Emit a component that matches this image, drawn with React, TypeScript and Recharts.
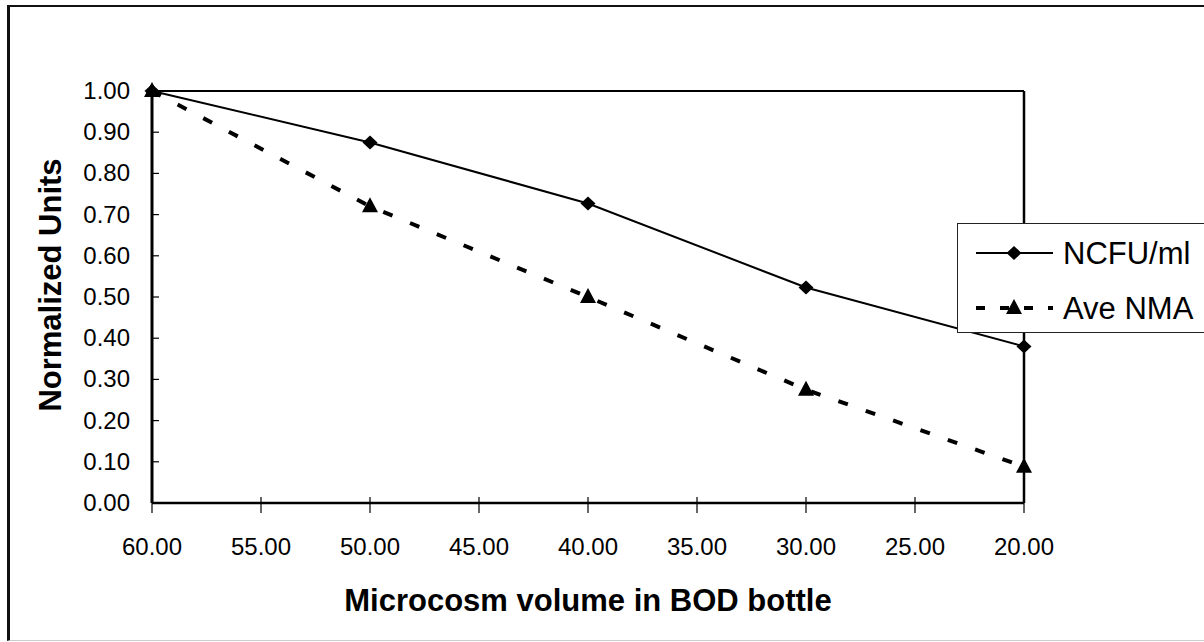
import React from "react";
import {
  LineChart, Line, XAxis, YAxis, Legend, ReferenceLine, Label,
} from "recharts";

const volumes = [60, 50, 40, 30, 20];
const ncfu = [1.0, 0.875, 0.727, 0.523, 0.38];
const aveNma = [1.0, 0.72, 0.5, 0.275, 0.088];
const xTicks = [60, 55, 50, 45, 40, 35, 30, 25, 20];
const yTicks = [0, 0.1, 0.2, 0.3, 0.4, 0.5, 0.6, 0.7, 0.8, 0.9, 1.0];

const data = volumes.map((v, i) => ({ vol: v, ncfu: ncfu[i], nma: aveNma[i] }));

const FONT = "'Liberation Sans', Arial, sans-serif";
const DASH = "10 19";

const Diamond = ({ cx, cy }: any) => (
  <path d={`M${cx},${cy - 7} L${cx + 7.5},${cy} L${cx},${cy + 7} L${cx - 7.5},${cy} Z`} fill="#000" />
);

const Triangle = ({ cx, cy }: any) => (
  <path d={`M${cx},${cy - 9} L${cx + 8},${cy + 6} L${cx - 8},${cy + 6} Z`} fill="#000" />
);

const YTick = ({ x, y, payload }: any) => (
  <g>
    <line x1={x + 22} x2={x + 29} y1={y} y2={y} stroke="#000" strokeWidth={1.2} />
    <text x={x} y={y} dy={8} textAnchor="end" fontSize={24} fontFamily={FONT} fill="#000">
      {Number(payload.value).toFixed(2)}
    </text>
  </g>
);

const XTick = ({ x, y, payload }: any) => (
  <g>
    <line x1={x} x2={x} y1={y - 8} y2={y + 8} stroke="#000" strokeWidth={1.2} />
    <text x={x} y={y} dy={50} textAnchor="middle" fontSize={24} fontFamily={FONT} fill="#000">
      {Number(payload.value).toFixed(2)}
    </text>
  </g>
);

const LegendBox = ({ payload }: any) => {
  const nameOf = (key: string, fallback: string) =>
    (payload || []).find((p: any) => p.dataKey === key)?.value ?? fallback;
  return (
    <div style={{ width: 250, height: 110, border: "1.5px solid #222", borderRight: "none", background: "#fff", boxSizing: "border-box" }}>
      <svg width={248} height={108}>
        <line x1={18} x2={95} y1={29} y2={29} stroke="#000" strokeWidth={2} />
        <Diamond cx={56} cy={29} />
        <text x={105} y={29} dy={11} fontSize={31} fontFamily={FONT} fill="#000">{nameOf("ncfu", "NCFU/ml")}</text>
        <line x1={18} x2={95} y1={84} y2={84} stroke="#000" strokeWidth={4} strokeDasharray="9 15" />
        <Triangle cx={56} cy={84} />
        <text x={105} y={84} dy={11} fontSize={31} fontFamily={FONT} fill="#000">{nameOf("nma", "Ave NMA")}</text>
      </svg>
    </div>
  );
};

export default function App() {
  return (
    <div style={{ position: "absolute", left: 0, top: 0, width: 1204, height: 642, background: "#fff" }}>
      <div
        style={{
          position: "absolute", left: 7, top: 5, width: 1197, height: 636,
          borderLeft: "3px solid #111", borderTop: "2.5px solid #111", borderBottom: "1px solid #ccc",
          boxSizing: "border-box",
        }}
      />
      <div style={{ position: "absolute", left: 0, top: 0 }}>
        <LineChart width={1204} height={642} data={data} margin={{ top: 91, right: 180, left: 0, bottom: 0 }}>
          <XAxis
            dataKey="vol"
            type="number"
            domain={[20, 60]}
            reversed
            ticks={xTicks}
            interval={0}
            height={139}
            tick={<XTick />}
            tickLine={false}
            tickSize={0}
            axisLine={{ stroke: "#000", strokeWidth: 2.5 }}
          >
            <Label
              value="Microcosm volume in BOD bottle"
              position="center"
              dy={27}
              style={{ fontSize: 31, fontWeight: 700, fontFamily: FONT, fill: "#000" }}
            />
          </XAxis>
          <YAxis
            type="number"
            domain={[0, 1]}
            ticks={yTicks}
            interval={0}
            width={152}
            tick={<YTick />}
            tickLine={false}
            tickSize={0}
            tickMargin={22}
            axisLine={{ stroke: "#000", strokeWidth: 3 }}
          >
            <Label
              value="Normalized Units"
              angle={-90}
              position="center"
              dx={-26}
              dy={-12}
              style={{ fontSize: 31, fontWeight: 700, fontFamily: FONT, fill: "#000", textAnchor: "middle" }}
            />
          </YAxis>
          <ReferenceLine y={1} stroke="#000" strokeWidth={2} />
          <ReferenceLine x={20} stroke="#000" strokeWidth={2.5} />
          <Legend
            layout="horizontal"
            align="center"
            verticalAlign="middle"
            content={<LegendBox />}
            wrapperStyle={{ position: "absolute", left: 957, top: 223, width: 250, height: 110 }}
          />
          <Line
            dataKey="ncfu"
            name="NCFU/ml"
            stroke="#000"
            strokeWidth={2}
            dot={<Diamond />}
            activeDot={false}
            isAnimationActive={false}
          />
          <Line
            dataKey="nma"
            name="Ave NMA"
            stroke="#000"
            strokeWidth={4}
            strokeDasharray={DASH}
            dot={<Triangle />}
            activeDot={false}
            isAnimationActive={false}
          />
        </LineChart>
      </div>
    </div>
  );
}
